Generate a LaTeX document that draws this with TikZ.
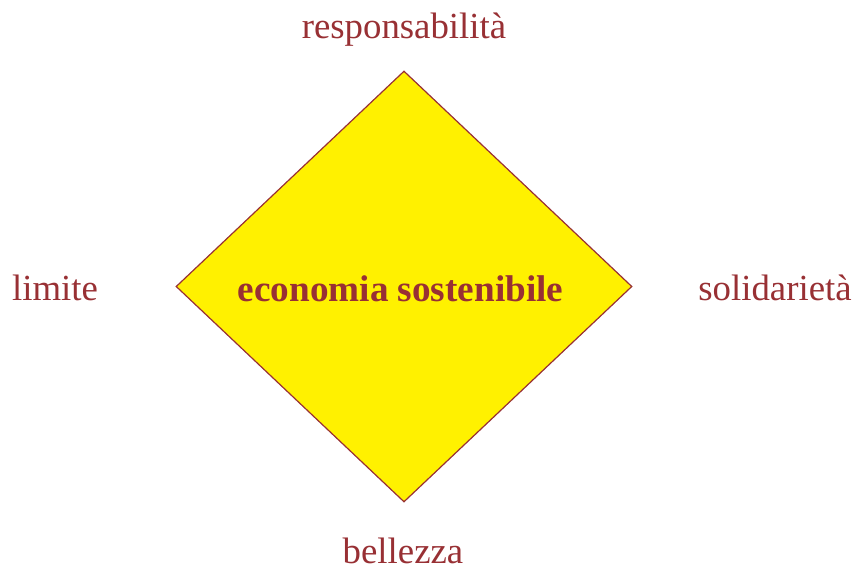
\documentclass[tikz,border=0pt]{standalone}
\usepackage{fontspec}
\setmainfont{Liberation Serif}
\usetikzlibrary{shapes.geometric}
\definecolor{wine}{RGB}{152,48,52}
\definecolor{sunyellow}{RGB}{255,241,0}
\tikzset{word/.style={text=wine,font=\fontsize{27.6}{33}\selectfont,anchor=base}}
\tikzset{core/.style={diamond,draw=wine,fill=sunyellow,line width=0.9pt,inner sep=0pt,
                      minimum width=342pt,minimum height=323.25pt}}

\begin{document}
\begin{tikzpicture}[x=0.75pt,y=-0.75pt]
    \useasboundingbox (0,0) rectangle (858,574);

    % The diamond in the middle
    \node[core] (rhomb) at (404,286.5) {};
    \node[word,font=\fontsize{27.9}{33}\selectfont\bfseries] (eco) at (400.5,301.5) {economia sostenibile};

    % The four words round it
    \node[word] (top) at (404,39) {responsabilità};
    \node[word] (left) at (55,301) {limite};
    \node[word] (right) at (775,301) {solidarietà};
    \node[word] (bottom) at (403,563) {bellezza};
\end{tikzpicture}
\end{document}
